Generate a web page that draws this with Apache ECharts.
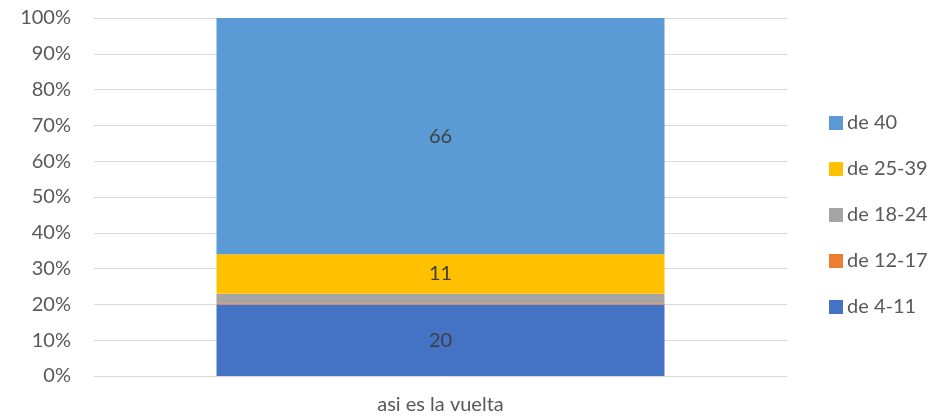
<!DOCTYPE html>
<html>
<head>
<meta charset="utf-8">
<script src="https://cdn.jsdelivr.net/npm/echarts@6/dist/echarts.min.js"></script>
<style>
  html, body { margin: 0; padding: 0; background: #fff; }
  #chart { width: 935px; height: 416px; }
</style>
</head>
<body>
<div id="chart"></div>
<script>
const categories = ['asi es la vuelta']
const seriesNames = ['de 4-11', 'de 12-17', 'de 18-24', 'de 25-39', 'de 40']
const seriesColors = ['#4472C4', '#ED7D31', '#A5A5A5', '#FFC000', '#5B9BD5']
// valores (una sola columna)
const val4to11 = [20]
const val12to17 = [0.3]
const val18to24 = [2.7]
const val25to39 = [11]
const val40 = [66]
const yTicks = [0, 10, 20, 30, 40, 50, 60, 70, 80, 90, 100]

const allValues = [val4to11, val12to17, val18to24, val25to39, val40]
const totals = categories.map((c, i) => allValues.reduce((s, arr) => s + arr[i], 0))

const chart = echarts.init(document.getElementById('chart'))
const font = 'Lato, "Open Sans", sans-serif'

const series = allValues.map((arr, k) => ({
  name: seriesNames[k],
  type: 'bar',
  stack: 'total',
  barWidth: 448,
  itemStyle: { color: seriesColors[k] },
  label: {
    show: true,
    position: 'inside',
    color: '#404040',
    fontSize: 20,
    fontFamily: font,
    formatter: (p) => (arr[p.dataIndex] >= 5 ? Math.round(arr[p.dataIndex]) : ''),
  },
  data: arr.map((v, i) => (v / totals[i]) * 100),
}))

const options = {
  animation: false,
  textStyle: { fontFamily: font },
  grid: {
    left: 94,
    right: 148,
    top: 18,
    bottom: 40,
  },
  legend: {
    orient: 'vertical',
    left: 829,
    top: 113,
    padding: 0,
    itemWidth: 14,
    itemHeight: 14,
    itemGap: 26,
    icon: 'rect',
    data: seriesNames.slice().reverse(),
    textStyle: { color: '#595959', fontSize: 20, fontFamily: font, padding: [0, 0, 0, -1] },
  },
  xAxis: {
    type: 'category',
    data: categories,
    axisLine: { show: true, lineStyle: { color: '#d9d9d9', width: 1 } },
    axisTick: { show: false },
    axisLabel: { color: '#595959', fontSize: 20, fontFamily: font, margin: 19 },
  },
  yAxis: {
    type: 'value',
    min: yTicks[0],
    max: yTicks[yTicks.length - 1],
    interval: 10,
    axisLine: { show: false },
    axisTick: { show: false },
    axisLabel: { color: '#595959', fontSize: 20, fontFamily: font, margin: 23, formatter: '{value}%' },
    splitLine: { lineStyle: { color: '#d9d9d9', width: 1 } },
  },
  series,
}
chart.setOption(options)
</script>
</body>
</html>
